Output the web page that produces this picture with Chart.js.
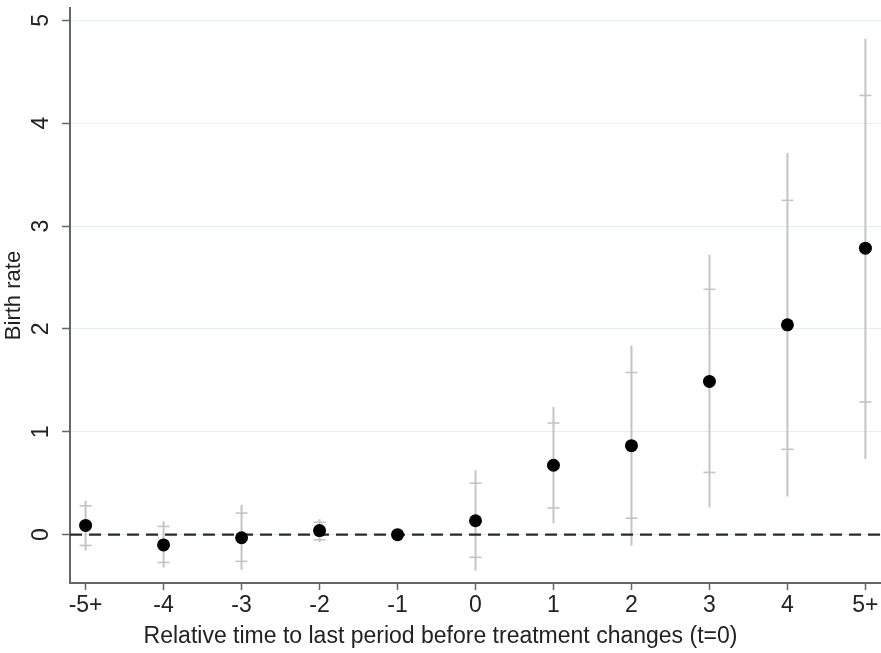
<!DOCTYPE html>
<html>
<head>
<meta charset="utf-8">
<script src="https://cdn.jsdelivr.net/npm/chart.js@4"></script>
<style>
  html, body { margin: 0; padding: 0; background: #ffffff; }
  #wrap { width: 881px; height: 653px; }
</style>
</head>
<body>
<div id="wrap"><canvas id="c" width="881" height="653"></canvas></div>
<script>
// ---- data ----
const tickLabels = ['-5+', '-4', '-3', '-2', '-1', '0', '1', '2', '3', '4', '5+'];
const relTime    = [-5, -4, -3, -2, -1, 0, 1, 2, 3, 4, 5];
const estimate   = [0.09, -0.10, -0.03, 0.04, 0.00, 0.135, 0.675, 0.865, 1.49, 2.04, 2.785];
const ci95Low    = [-0.155, -0.32, -0.34, -0.075, null, -0.35, 0.11, -0.107, 0.265, 0.37, 0.735];
const ci95High   = [0.33, 0.13, 0.29, 0.15, null, 0.625, 1.24, 1.84, 2.72, 3.71, 4.82];
const ci90Low    = [-0.105, -0.27, -0.26, -0.05, null, -0.22, 0.26, 0.16, 0.605, 0.83, 1.29];
const ci90High   = [0.28, 0.08, 0.21, 0.12, null, 0.50, 1.085, 1.576, 2.385, 3.25, 4.27];
const yTicks     = [0, 1, 2, 3, 4, 5];
const xTitle = 'Relative time to last period before treatment changes (t=0)';
const yTitle = 'Birth rate';

// ---- build datasets from the arrays ----
const pointData = relTime.map((x, i) => ({ x: x, y: estimate[i] }));
const ciLineData = [];
relTime.forEach((x, i) => {
  if (ci95Low[i] === null) return;
  ciLineData.push({ x: x, y: ci95Low[i] });
  ciLineData.push({ x: x, y: ci95High[i] });
  ciLineData.push({ x: x, y: null });
});
const capData = [];
relTime.forEach((x, i) => {
  if (ci90Low[i] === null) return;
  capData.push({ x: x, y: ci90Low[i] });
  capData.push({ x: x, y: ci90High[i] });
});
const zeroLine = [{ x: -5.2, y: 0 }, { x: 5.2, y: 0 }];

const FONT = "'Liberation Sans', Arial, Helvetica, sans-serif";
const ciColor = '#c4c4c4';
const axisColor = '#666666';

new Chart(document.getElementById('c'), {
  type: 'scatter',
  data: {
    datasets: [
      { label: 'estimate', data: pointData, backgroundColor: '#000', borderColor: '#000',
        pointRadius: 6.5, pointBorderWidth: 0, showLine: false },
      { label: 'zero', type: 'line', data: zeroLine, borderColor: '#2a2a2a', borderWidth: 2.2,
        borderDash: [12, 7], pointRadius: 0, fill: false },
      { label: 'ci90', data: capData, pointStyle: 'line', pointRadius: 6,
        borderColor: ciColor, pointBorderColor: ciColor, pointBorderWidth: 1.6, showLine: false },
      { label: 'ci95', type: 'line', data: ciLineData, borderColor: ciColor, borderWidth: 2,
        pointRadius: 0, spanGaps: false, fill: false }
    ]
  },
  options: {
    responsive: false,
    animation: false,
    devicePixelRatio: 1,
    layout: { autoPadding: false, padding: { top: 8, right: 0, left: 0, bottom: 0 } },
    plugins: {
      legend: { display: false },
      tooltip: { enabled: false },
      title: { display: true, position: 'bottom', text: xTitle, color: '#222',
               font: { family: FONT, size: 23, weight: 'normal' }, padding: { top: 0, bottom: 3 } }
    },
    scales: {
      x: {
        type: 'linear', min: -5.2, max: 5.2,
        afterBuildTicks: (s) => { s.ticks = relTime.map(v => ({ value: v })); },
        afterFit: (s) => { s.height = 70 - 30.6; s.paddingLeft = 0; s.paddingRight = 0; },
        grid: { drawOnChartArea: false, drawTicks: true, tickLength: 7, tickColor: axisColor, tickWidth: 1.5 },
        border: { display: true, color: axisColor, width: 2 },
        ticks: {
          autoSkip: false, maxRotation: 0, minRotation: 0, padding: 2,
          color: '#222', font: { family: FONT, size: 23 },
          callback: (v) => tickLabels[relTime.indexOf(v)]
        },
        title: { display: false, text: xTitle }
      },
      y: {
        type: 'linear', min: -0.47, max: 5.12,
        afterBuildTicks: (s) => { s.ticks = yTicks.map(v => ({ value: v })); },
        afterFit: (s) => { s.width = 70; s.paddingTop = 0; s.paddingBottom = 0; },
        grid: { drawOnChartArea: true, color: '#e2eef0', lineWidth: 1, drawTicks: true,
                tickLength: 8, tickColor: axisColor, tickWidth: 1.5 },
        border: { display: true, color: axisColor, width: 2 },
        ticks: {
          autoSkip: false, minRotation: 90, maxRotation: 90, crossAlign: 'center', padding: 14,
          color: '#222', font: { family: FONT, size: 23 },
          callback: (v) => String(v)
        },
        title: { display: true, text: yTitle, color: '#222', font: { family: FONT, size: 22 },
                 padding: { top: 1, bottom: 0 } }
      }
    }
  }
});
</script>
</body>
</html>
